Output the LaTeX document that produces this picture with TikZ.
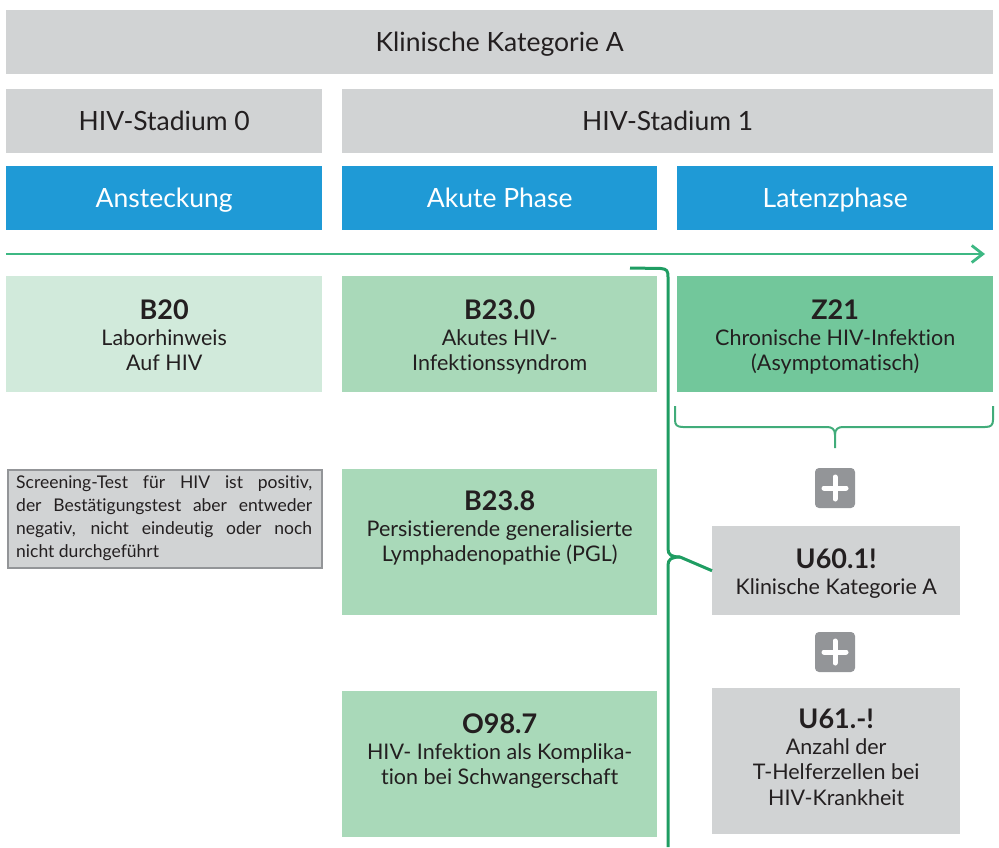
\documentclass[tikz,border=0pt]{standalone}
\usepackage{fontspec}
\setmainfont{Lato}[Ligatures=NoCommon]
\usetikzlibrary{arrows.meta,calc}
\definecolor{greyfill}{HTML}{D1D3D4}
\definecolor{bluefill}{HTML}{1F9AD6}
\definecolor{arrowgreen}{HTML}{3DB883}
\definecolor{bracegreen}{HTML}{1F9D62}
\definecolor{greenA}{HTML}{D1EADB}
\definecolor{greenB}{HTML}{A9D9B9}
\definecolor{greenC}{HTML}{72C79B}
\definecolor{plusgrey}{HTML}{939598}
\definecolor{inkcol}{HTML}{231F20}
\begin{document}
\begin{tikzpicture}[x=1pt,y=-1pt,
  box/.style={draw=none,inner sep=0pt,anchor=north west,minimum width=#1},
  greybox/.style={box=#1,fill=greyfill},
  hdrtext/.style={font=\fontsize{26.5}{30}\selectfont,text=inkcol,text height=19pt,text depth=0pt},
  bluetext/.style={font=\fontsize{26.5}{30}\selectfont,text=white,text height=19pt,text depth=0pt},
  codetext/.style={font=\fontsize{21.5}{25.5}\selectfont,text=inkcol,align=center,inner sep=0pt,anchor=north},
  plusbox/.style={fill=plusgrey,rounded corners=4pt,minimum width=40pt,minimum height=40pt,inner sep=0pt},
  bracepath/.style={draw=bracegreen,line width=3pt},
]
\useasboundingbox (0,0) rectangle (999,847);

% header rows
\node[greybox=987pt,minimum height=64pt,hdrtext] (kat) at (6,10) {Klinische Kategorie A};
\node[greybox=316pt,minimum height=64pt,hdrtext] (st0) at (6,89) {HIV-Stadium 0};
\node[greybox=651pt,minimum height=64pt,hdrtext] (st1) at (342,89) {HIV-Stadium 1};
\node[box=316pt,fill=bluefill,minimum height=64pt,bluetext] (ans) at (6,166) {Ansteckung};
\node[box=315pt,fill=bluefill,minimum height=64pt,bluetext] (akut) at (342,166) {Akute Phase};
\node[box=316pt,fill=bluefill,minimum height=64pt,bluetext] (lat) at (677,166) {Latenzphase};

% timeline arrow
\coordinate (tl0) at (6,254);
\coordinate (tl1) at (985,254);
\draw[arrowgreen,line width=2.8pt,-{Straight Barb[length=11pt,width=17pt,line width=2.8pt]}] (tl0) -- (tl1);

% row 1
\node[box=316pt,fill=greenA,minimum height=116pt] (b20) at (6,276) {};
\node[codetext] (b20t) at ([yshift=-24]b20.north) {\textbf{\fontsize{27}{25.5}\selectfont B20}\\Laborhinweis\\Auf HIV};
\node[box=315pt,fill=greenB,minimum height=116pt] (b230) at (342,276) {};
\node[codetext] (b230t) at ([yshift=-24]b230.north) {\textbf{\fontsize{27}{25.5}\selectfont B23.0}\\Akutes HIV-\\Infektionssyndrom};
\node[box=316pt,fill=greenC,minimum height=116pt] (z21) at (677,276) {};
\node[codetext] (z21t) at ([yshift=-24]z21.north) {\textbf{\fontsize{27}{25.5}\selectfont Z21}\\Chronische HIV-Infektion\\(Asymptomatisch)};

% screening note
\node[anchor=north west,fill=greyfill,draw=plusgrey,line width=2.2pt,minimum width=314pt,minimum height=98pt,inner sep=0pt] (scr) at (7,469) {};
\node[anchor=north west,inner sep=0pt,text width=296pt,align=justify,font=\fontsize{17.5}{22.8}\selectfont,text=inkcol] (scrt) at (16,476)
{\hyphenpenalty=10000 Screening-Test für HIV ist positiv,\linebreak der Bestätigungstest aber entweder\linebreak negativ, nicht eindeutig oder noch\linebreak nicht durchgeführt};

% column 2 lower boxes
\node[box=315pt,fill=greenB,minimum height=146pt] (b238) at (342,469) {};
\node[codetext] (b238t) at ([yshift=-22]b238.north) {\textbf{\fontsize{27}{25.5}\selectfont B23.8}\\Persistierende generalisierte\\Lymphadenopathie (PGL)};
\node[box=315pt,fill=greenB,minimum height=146pt] (o987) at (342,691) {};
\node[codetext] (o987t) at ([yshift=-23]o987.north) {\textbf{\fontsize{27}{25.5}\selectfont O98.7}\\HIV- Infektion als Komplika-\\tion bei Schwangerschaft};

% column 3 lower boxes
\node[plusbox] (plus1) at (835,488) {};
\node[greybox=248pt,minimum height=89pt] (u601) at (712,526) {};
\node[codetext] (u601t) at ([yshift=-23]u601.north) {\textbf{\fontsize{27}{25.5}\selectfont U60.1!}\\Klinische Kategorie A};
\node[plusbox] (plus2) at (835,652) {};
\node[greybox=248pt,minimum height=146pt] (u61) at (712,688) {};
\node[codetext] (u61t) at ([yshift=-21]u61.north) {\textbf{\fontsize{27}{25.5}\selectfont U61.-!}\\Anzahl der\\T-Helferzellen bei\\HIV-Krankheit};

% plus signs
\foreach \p in {plus1,plus2}{
  \draw[white,line width=5pt,line cap=round] ([xshift=-11]\p.center) -- ([xshift=11]\p.center);
  \draw[white,line width=5pt,line cap=round] ([yshift=-11]\p.center) -- ([yshift=11]\p.center);
}

% big brace
\coordinate (brtop) at (630,268);
\coordinate (brbot) at (668,847);
\coordinate (brtip) at (u601.west);
\draw[bracepath,line join=round] (brtop) -- (661,268.5) .. controls (667,269) and (668,271) .. (668,277)
  -- (668,549) .. controls (668,555) and (672,557) .. (680,557) -- (brtip);
\draw[bracepath,line join=round] (680,557) .. controls (672,557) and (668,559) .. (668,565) -- (brbot);

% Z21 brace
\draw[draw=bracegreen!85!white,line width=2pt,line join=round]
  (675,406) -- (675,420) .. controls (675,425) and (677,427) .. (683,427) -- (827,427)
  .. controls (832,427) and (835,429) .. (835,435) -- (835,448);
\draw[draw=bracegreen!85!white,line width=2pt,line join=round]
  (835,435) .. controls (835,429) and (838,427) .. (843,427) -- (985,427)
  .. controls (991,427) and (993,425) .. (993,420) -- (993,406);
\end{tikzpicture}
\end{document}
